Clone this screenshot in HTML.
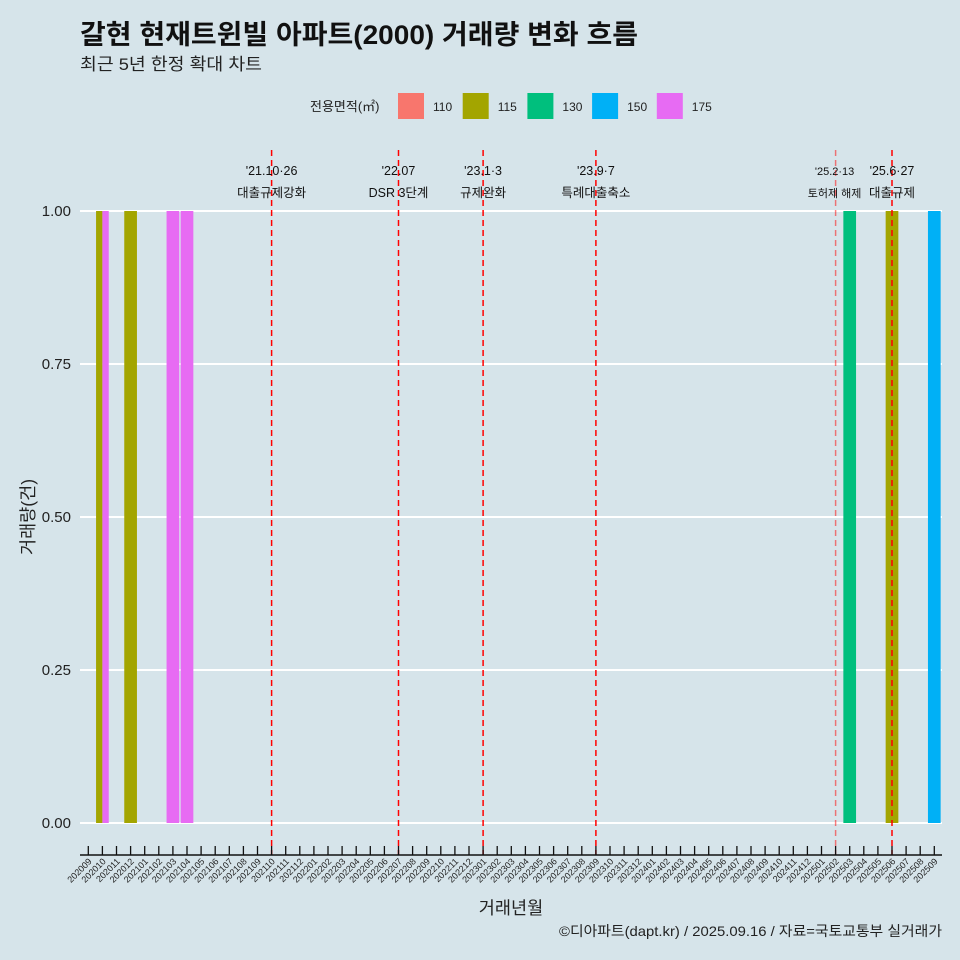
<!DOCTYPE html>
<html><head><meta charset="utf-8">
<style>
body{margin:0;background:#d6e4ea;}
svg{display:block;font-family:"Liberation Sans","Noto Sans CJK KR",sans-serif;}
</style></head>
<body>
<svg id="chart" width="960" height="960" xmlns="http://www.w3.org/2000/svg">
<rect width="960" height="960" fill="#d6e4ea"/>
<text x="80" y="44" font-size="27" font-weight="bold" fill="#111" textLength="558" lengthAdjust="spacingAndGlyphs">갈현 현재트윈빌 아파트(2000) 거래량 변화 흐름</text>
<text x="80" y="70" font-size="17" fill="#222" textLength="182" lengthAdjust="spacingAndGlyphs">최근 5년 한정 확대 차트</text>
<g id="legend"></g>
<g id="grid"></g>
<g id="bars"></g>
<g id="events"></g>
<g id="xaxis"></g>
<g id="yaxis"></g>
<text x="511" y="914" font-size="17.5" text-anchor="middle" fill="#222">거래년월</text>
<text transform="translate(34,517) rotate(-90)" font-size="17.5" text-anchor="middle" fill="#222">거래량(건)</text>
<text x="559" y="936" font-size="14" fill="#222" textLength="383" lengthAdjust="spacingAndGlyphs">©디아파트(dapt.kr) / 2025.09.16 / 자료=국토교통부 실거래가</text>
</svg>
<script>
const months = [];
for (let y = 2020; y <= 2025; y++) for (let m = 1; m <= 12; m++) {
  const s = y + String(m).padStart(2, '0');
  if (s >= '202009' && s <= '202509') months.push(s);
}
const areas = ['110', '115', '130', '150', '175'];
const areaColors = ['#f8766d', '#a3a500', '#00bf7d', '#00b0f6', '#e76bf3'];
const barMonths = ['202010', '202010', '202012', '202103', '202104', '202503', '202506', '202509'];
const barAreas = ['115', '175', '115', '175', '175', '130', '115', '150'];
const barValues = [1, 1, 1, 1, 1, 1, 1, 1];
const yTicks = [0, 0.25, 0.5, 0.75, 1.0];
const yTickLabels = ['0.00', '0.25', '0.50', '0.75', '1.00'];
const eventMonths = ['202110', '202207', '202301', '202309', '202502', '202506'];
const eventLine1 = ["'21.10·26", "'22.07", "'23.1·3", "'23.9·7", "'25.2·13", "'25.6·27"];
const eventLine2 = ['대출규제강화', 'DSR 3단계', '규제완화', '특례대출축소', '토허제 해제', '대출규제'];

const NS = 'http://www.w3.org/2000/svg';
function el(tag, attrs, parent, text) {
  const e = document.createElementNS(NS, tag);
  for (const k in attrs) e.setAttribute(k, attrs[k]);
  if (text !== undefined) e.textContent = text;
  parent.appendChild(e); return e;
}
const x0 = 88.3, step = 14.1;
const xPos = m => x0 + months.indexOf(m) * step;
const yPos = v => 823 - v * 612;
const bw = step * 0.9;

const grid = document.getElementById('grid');
const yaxis = document.getElementById('yaxis');
yTicks.forEach((t, i) => {
  const g = el('line', {x1: 80, x2: 942, y1: yPos(t), y2: yPos(t), stroke: '#fff', 'stroke-width': 2}, grid);
  
  
  const tx = el('text', {x: 71, y: yPos(t) + 5, 'font-size': 15, 'text-anchor': 'end', fill: '#222'}, yaxis, yTickLabels[i]);
  
  
});

const bars = document.getElementById('bars');
const groups = {};
barMonths.forEach((m, i) => { (groups[m] = groups[m] || []).push(i); });
for (const m in groups) {
  const idx = groups[m]; const w = bw / idx.length;
  idx.forEach((i, k) => {
    const r = el('rect', {x: xPos(m) - bw / 2 + k * w, y: yPos(barValues[i]), width: w, height: yPos(0) - yPos(barValues[i]), fill: areaColors[areas.indexOf(barAreas[i])]}, bars);
    
    
  });
}

const ev = document.getElementById('events');
eventMonths.forEach((m, i) => {
  const x = xPos(m);
  const l = el('line', {x1: x, x2: x, y1: 150, y2: 855, stroke: '#ff0000', 'stroke-width': 1.5, 'stroke-dasharray': '6,4', opacity: m === '202502' ? 0.5 : 1}, ev);
  
  
  const fs = m === '202502' ? 11 : 12.5;
  const dx = m === '202502' ? -1 : 0;
  const t1 = el('text', {x: x + dx, y: 175, 'font-size': fs, 'text-anchor': 'middle', fill: '#111'}, ev, eventLine1[i]);
  
  
  const t2 = el('text', {x: x + dx, y: 197, 'font-size': fs, 'text-anchor': 'middle', fill: '#111'}, ev, eventLine2[i]);
  
  
});

const xa = document.getElementById('xaxis');
const ax = el('line', {x1: 80, x2: 942, y1: 855, y2: 855, stroke: '#111', 'stroke-width': 1.5}, xa);


months.forEach(m => {
  const x = xPos(m);
  const t = el('line', {x1: x, x2: x, y1: 846, y2: 855, stroke: '#111', 'stroke-width': 1.3}, xa);
  
  
  const tx = el('text', {transform: `translate(${x + 4},${862}) rotate(-45)`, 'font-size': 9, 'text-anchor': 'end', fill: '#222'}, xa, m);
  
  
});

const lg = document.getElementById('legend');
const lt = el('text', {x: 310, y: 111, 'font-size': 13, fill: '#222'}, lg, '전용면적(㎡)');


areas.forEach((a, i) => {
  const x = 398 + i * 64.7;
  const r = el('rect', {x: x, y: 93, width: 26, height: 26, fill: areaColors[i]}, lg);
  
  
  const t = el('text', {x: x + 35, y: 111, 'font-size': 12, fill: '#222'}, lg, a);
  
  
});
</script>
</body></html>
